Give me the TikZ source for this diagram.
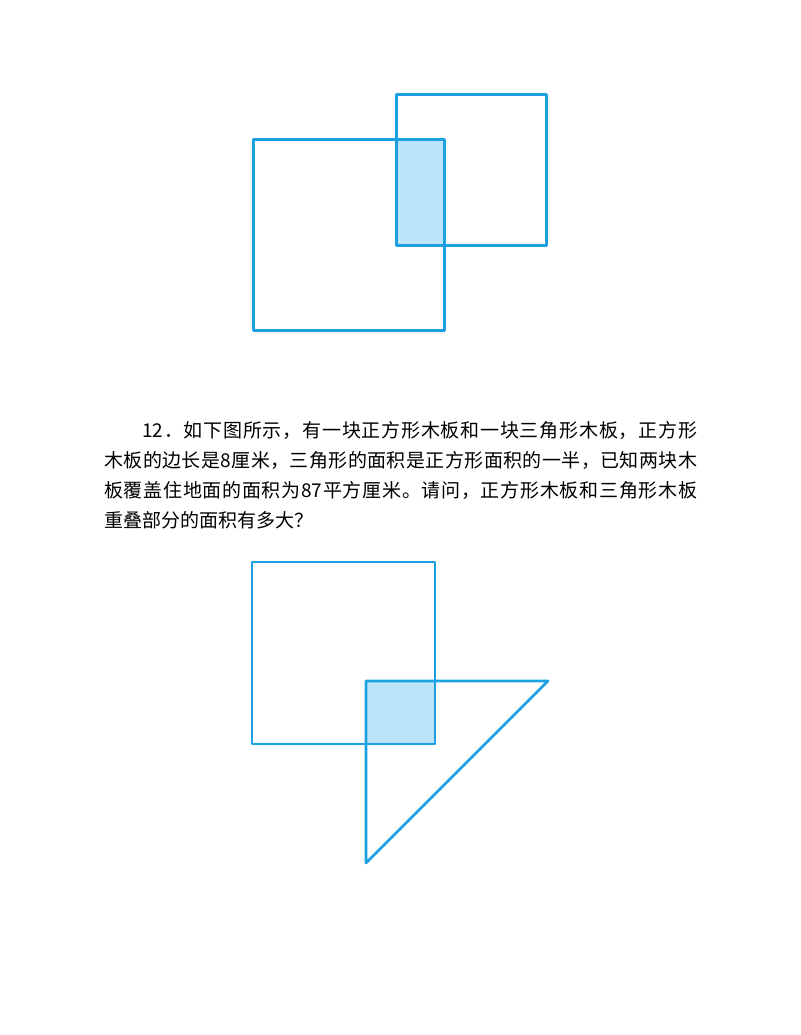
\documentclass[tikz,border=0pt]{standalone}
\usepackage{fontspec}
\setmainfont{Noto Sans CJK SC}
\newfontfamily\cjk{Noto Sans CJK SC}
\definecolor{edgeblue}{RGB}{27,161,226}
\definecolor{lightfill}{RGB}{188,228,248}
\def\spreadaux#1{\ifx\relax#1\else#1\hfil\expandafter\spreadaux\fi}
\newcommand\spreadline[2]{\hbox to #1{\spreadaux#2\relax\unskip}}
\begin{document}
\begin{tikzpicture}[x=1pt,y=-1pt,
  outline/.style={draw=edgeblue,line width=3pt,line join=round},
  outlinetwo/.style={draw=edgeblue,line width=2.6pt,line join=round},
  overlap/.style={fill=lightfill},
  txt/.style={anchor=base west,inner sep=0pt,font=\cjk\fontsize{19pt}{30pt}\selectfont}]
\useasboundingbox[fill=white] (0,0) rectangle (800,1035);
% top figure
\path[overlap] (396,140) rectangle (444,245);
\draw[outline] (253,140) rectangle (444,330);
\draw[outline] (396,95) rectangle (546,245);
% text
\node[txt] (l1) at (142,437) {\spreadline{555pt}{{12}．如下图所示，有一块正方形木板和一块三角形木板，正方形}};
\node[txt] (l2) at (104,467) {\spreadline{593pt}{木板的边长是8厘米，三角形的面积是正方形面积的一半，已知两块木}};
\node[txt] (l3) at (104,497) {\spreadline{593pt}{板覆盖住地面的面积为{87}平方厘米。请问，正方形木板和三角形木板}};
\node[txt] (l4) at (104,527) {重叠部分的面积有多大？};
% bottom figure
\path[overlap] (366,681) rectangle (435,744);
\draw[outlinetwo] (252,562) rectangle (435,744);
\draw[outlinetwo] (366,681) -- (548,681) -- (366,863) -- cycle;
\end{tikzpicture}
\end{document}
